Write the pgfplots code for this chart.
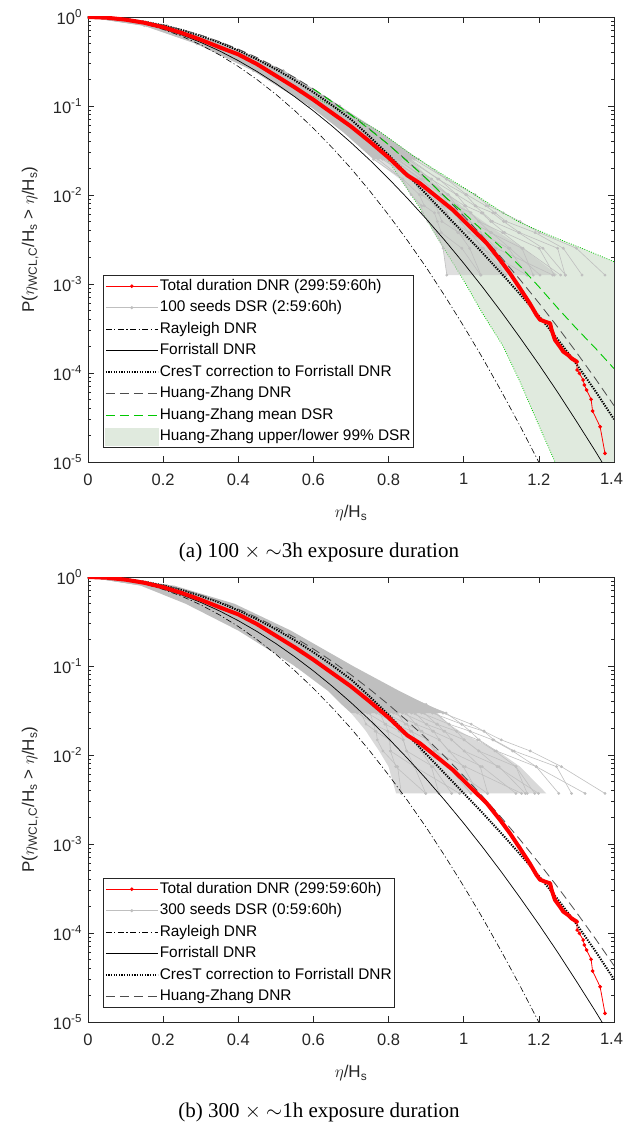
\documentclass[border=0pt]{standalone}
\usepackage{pgfplots}
\pgfplotsset{compat=1.18}
\usepackage{pgfplotstable}
\usepackage{fontspec}
\setmainfont{Liberation Sans}
\newfontfamily\capfont{Liberation Serif}

\definecolor{dsrgrey}{rgb}{0.75,0.75,0.75}
\definecolor{bandfill}{RGB}{224,234,222}
\definecolor{hzgreen}{RGB}{0,200,0}
\definecolor{axgrey}{rgb}{0.15,0.15,0.15}
\definecolor{hzgrey}{rgb}{0.3,0.3,0.3}

% 100 seeds DSR (panel a): x (eta/Hs) of each seed at each exceedance level P
\pgfplotstableread{
P       s1    s2    s3    s4    s5    s6    s7    s8    s9    s10   s11   s12   s13   s14   s15   s16
1       0     0     0     0     0     0     0     0     0     0     0     0     0     0     0     0
0.8     0.180 0.162 0.198 0.168 0.186 0.156 0.174 0.204 0.180 0.192 0.150 0.171 0.210 0.183 0.165 0.195
0.5     0.325 0.304 0.346 0.311 0.332 0.297 0.318 0.353 0.325 0.339 0.290 0.315 0.360 0.329 0.308 0.343
0.25    0.480 0.456 0.504 0.464 0.488 0.448 0.472 0.512 0.480 0.496 0.440 0.468 0.520 0.484 0.460 0.500
0.1     0.630 0.606 0.654 0.614 0.638 0.598 0.622 0.662 0.630 0.646 0.590 0.618 0.670 0.634 0.610 0.650
0.0504  0.705 0.695 0.730 0.708 0.725 0.703 0.720 0.748 0.730 0.743 0.710 0.732 0.768 0.749 0.738 0.768
0.0252  0.760 0.772 0.784 0.790 0.796 0.802 0.808 0.814 0.820 0.826 0.832 0.842 0.850 0.858 0.868 0.880
0.0151  0.837 0.838 0.863 0.857 0.876 0.870 0.889 0.883 0.902 0.896 0.915 0.913 0.934 0.931 0.954 0.955
0.01008 0.860 0.882 0.889 0.908 0.906 0.925 0.923 0.942 0.940 0.959 0.957 0.981 0.982 1.005 1.008 1.030
0.00756 0.888 0.895 0.926 0.924 0.945 0.943 0.964 0.962 0.983 0.981 1.002 1.005 1.030 1.032 1.059 1.066
0.0063  0.890 0.922 0.933 0.955 0.955 0.976 0.976 0.998 0.998 1.019 1.019 1.047 1.051 1.077 1.084 1.105
0.00504 0.905 0.930 0.942 0.966 0.966 0.991 0.991 1.015 1.015 1.040 1.040 1.072 1.077 1.106 1.113 1.150
0.00378 0.929 0.940 0.987 0.984 1.016 1.013 1.045 1.042 1.074 1.071 1.103 1.109 1.146 1.149 1.190 1.201
0.00252 0.945 0.995 1.016 1.048 1.052 1.084 1.087 1.119 1.123 1.155 1.158 1.201 1.211 1.250 1.265 1.300
0.00126 0.955 1.045 1.046 1.168 1.112 1.104 1.237 1.169 1.203 1.185 1.258 1.241 1.271 1.270 1.315 1.376
}\seedsA

% 300 seeds DSR (panel b)
\pgfplotstableread{
P      b1    b2    b3    b4    b5    b6    b7    b8    b9    b10   b11   b12   b13   b14   b15   b16   b17   b18   b19   b20
1      0     0     0     0     0     0     0     0     0     0     0     0     0     0     0     0     0     0     0     0
0.8    0.180 0.162 0.198 0.171 0.189 0.153 0.204 0.177 0.186 0.168 0.195 0.150 0.183 0.210 0.174 0.159 0.192 0.201 0.165 0.207
0.5    0.315 0.288 0.342 0.302 0.329 0.275 0.351 0.311 0.324 0.297 0.338 0.270 0.320 0.360 0.306 0.284 0.333 0.347 0.293 0.356
0.25   0.460 0.430 0.490 0.445 0.475 0.415 0.500 0.455 0.470 0.440 0.485 0.410 0.465 0.510 0.450 0.425 0.480 0.495 0.435 0.505
0.1    0.625 0.583 0.667 0.604 0.646 0.562 0.681 0.618 0.639 0.597 0.660 0.555 0.632 0.695 0.611 0.576 0.653 0.674 0.590 0.688
0.052  0.701 0.680 0.733 0.701 0.730 0.685 0.758 0.726 0.741 0.721 0.761 0.705 0.753 0.794 0.749 0.734 0.783 0.800 0.756 0.818
0.037  0.706 0.705 0.738 0.728 0.738 0.748 0.759 0.769 0.777 0.787 0.798 0.808 0.818 0.828 0.839 0.851 0.863 0.875 0.888 0.900
0.0296 0.727 0.717 0.751 0.744 0.777 0.768 0.801 0.792 0.823 0.813 0.847 0.837 0.871 0.861 0.895 0.888 0.924 0.917 0.953 0.945
0.0222 0.740 0.762 0.760 0.793 0.790 0.821 0.818 0.849 0.844 0.874 0.872 0.902 0.900 0.930 0.928 0.961 0.961 0.995 0.995 1.020
0.0185 0.767 0.764 0.798 0.798 0.831 0.828 0.862 0.859 0.889 0.886 0.920 0.917 0.950 0.947 0.981 0.981 1.017 1.017 1.054 1.054
0.0148 0.770 0.803 0.803 0.839 0.839 0.872 0.872 0.905 0.902 0.935 0.935 0.968 0.968 1.001 1.001 1.037 1.041 1.077 1.080 1.100
0.0111 0.785 0.805 0.805 0.848 0.848 0.887 0.887 0.926 0.922 0.961 0.961 1.001 1.001 1.040 1.040 1.083 1.087 1.130 1.134 1.177
0.0074 0.824 0.819 0.869 0.869 0.918 0.914 0.963 0.959 1.004 0.999 1.049 1.044 1.094 1.089 1.139 1.139 1.193 1.193 1.247 1.260
0.0037 0.834 0.899 0.899 0.989 0.968 0.934 1.063 1.019 1.154 1.039 1.139 1.064 1.164 1.199 1.169 1.189 1.323 1.253 1.287 1.376
}\seedsB

\tikzset{
  greyline/.style={dsrgrey, solid, line width=0.6pt, mark=*, mark size=1.1pt, mark options={fill=dsrgrey, draw=dsrgrey, solid}},
  rayl/.style={black, line width=0.6pt, dash pattern=on 6pt off 2.5pt on 1.2pt off 2.5pt},
  forr/.style={black, solid, line width=0.7pt},
  crest/.style={black, line width=2pt, dash pattern=on 1.3pt off 1.3pt},
  hzdnr/.style={hzgrey, line width=0.8pt, dash pattern=on 9pt off 5pt},
  hzmean/.style={hzgreen, line width=0.9pt, dash pattern=on 9pt off 5pt},
  hzbound/.style={hzgreen, line width=0.8pt, dash pattern=on 0.8pt off 1.6pt},
}

\pgfplotsset{clip marker paths=true}

\newcommand{\theorycurves}{%
  \addplot[rayl, forget plot] coordinates {
    (0,1) (0.05,0.9802) (0.1,0.9231) (0.15,0.8353) (0.2,0.7261) (0.25,0.6065) (0.3,0.4868)
    (0.35,0.3753) (0.4,0.2780) (0.45,0.1979) (0.5,0.1353) (0.55,0.0889) (0.6,0.0561)
    (0.65,0.0340) (0.7,0.0199) (0.75,0.0111) (0.8,0.00597) (0.85,0.00309) (0.9,0.00154)
    (0.95,0.000731) (1.0,0.000335) (1.05,0.000148) (1.1,6.25e-5) (1.15,2.54e-5)
    (1.2,9.93e-6) (1.25,3.73e-6)};
  \addplot[forr, forget plot] coordinates {
    (0,1) (0.05,0.978) (0.1,0.9208) (0.15,0.8375) (0.2,0.737) (0.25,0.628) (0.3,0.5188)
    (0.35,0.4157) (0.4,0.3232) (0.45,0.2439) (0.5,0.1788) (0.55,0.1273) (0.6,0.0881)
    (0.65,0.0593) (0.7,0.0388) (0.75,0.0247) (0.8,0.01529) (0.85,0.0092) (0.9,0.0054)
    (0.95,0.00308) (1.0,0.00171) (1.05,0.000925) (1.1,0.000487) (1.15,0.000249)
    (1.2,0.0001249) (1.25,6.08e-5) (1.3,2.87e-5) (1.35,1.33e-5) (1.4,5.99e-6)};
  \addplot[crest, forget plot] coordinates {
    (0,1) (0.05,0.9866) (0.1,0.9474) (0.15,0.8854) (0.2,0.8055) (0.25,0.7132) (0.3,0.6146)
    (0.35,0.5156) (0.4,0.4209) (0.45,0.3345) (0.5,0.2587) (0.55,0.1948) (0.6,0.1427)
    (0.65,0.1018) (0.7,0.0707) (0.75,0.0452) (0.8,0.0282) (0.85,0.0170) (0.9,0.01023)
    (0.95,0.00617) (1.0,0.00372) (1.05,0.00224) (1.1,0.00132) (1.15,0.000767)
    (1.2,0.000437) (1.25,0.00024) (1.3,0.000126) (1.35,6.31e-5) (1.4,3.02e-5)};
  \addplot[hzdnr, forget plot] coordinates {
    (0,1) (0.05,0.9868) (0.1,0.9487) (0.15,0.8887) (0.2,0.8112) (0.25,0.7217) (0.3,0.6258)
    (0.35,0.5288) (0.4,0.4356) (0.45,0.3497) (0.5,0.2737) (0.55,0.2089) (0.6,0.1553)
    (0.65,0.1126) (0.7,0.0796) (0.75,0.0548) (0.8,0.03682) (0.85,0.02411) (0.9,0.01541)
    (0.95,0.00958) (1.0,0.00581) (1.05,0.00344) (1.1,0.001986) (1.15,0.001117)
    (1.2,0.000613) (1.25,0.000328) (1.3,0.0001707) (1.35,8.69e-5) (1.4,4.30e-5)};
}

\newcommand{\totalcurve}{%
  \addplot[red, solid, line width=4pt, line join=round, line cap=round, forget plot] coordinates {
    (0,1) (0.05,0.9817) (0.1,0.9333) (0.15,0.861) (0.2,0.7674) (0.25,0.6607) (0.3,0.5559)
    (0.35,0.4571) (0.4,0.3802) (0.45,0.2951) (0.5,0.2188) (0.55,0.1622) (0.6,0.1175)
    (0.65,0.0832) (0.7,0.0589) (0.75,0.0398) (0.8,0.0263) (0.85,0.0166) (0.884,0.01349)
    (0.928,0.00955) (0.972,0.00676) (1.017,0.00437) (1.061,0.00288) (1.097,0.00186)
    (1.123,0.00132) (1.15,0.000891) (1.176,0.000603) (1.194,0.000447) (1.203,0.000398)
    (1.216,0.000378) (1.23,0.000361) (1.234,0.000304) (1.243,0.000235) (1.256,0.000198)
    (1.265,0.000174) (1.278,0.000159) (1.287,0.000146) (1.301,0.000134)};
  \addplot[red, solid, line width=0.8pt, mark=*, mark size=1.4pt, mark options={fill=red, solid}, forget plot] coordinates {
    (1.176,0.000603) (1.194,0.000447) (1.203,0.000398) (1.216,0.000378) (1.23,0.000361)
    (1.234,0.000304) (1.243,0.000235) (1.256,0.000198) (1.265,0.000174) (1.278,0.000159)
    (1.287,0.000146) (1.301,0.000134) (1.302,0.000108) (1.308,9.91e-5) (1.318,8.34e-5)
    (1.321,7.33e-5) (1.327,6.44e-5) (1.339,5.06e-5) (1.343,3.74e-5) (1.363,2.49e-5)
    (1.376,1.25e-5)};
}

\begin{document}
\begin{tikzpicture}
\path[use as bounding box] (-88pt,-102pt) rectangle (535pt,1022pt);

% ---------------- panel (a) ----------------
\begin{axis}[at={(0pt,560pt)}, anchor=south west,
    scale only axis, width=526pt, height=445pt,
    xmin=0, xmax=1.4, ymode=log, ymin=1e-5, ymax=1,
    clip marker paths=true,
    xtick={0,0.2,0.4,0.6,0.8,1,1.2,1.4},
    xticklabels={0,0.2,0.4,0.6,0.8,1,1.2,\hspace*{-5pt}1.4},
    ytick={1e-5,1e-4,1e-3,1e-2,1e-1,1},
    yticklabels={10\textsuperscript{-5},10\textsuperscript{-4},10\textsuperscript{-3},10\textsuperscript{-2},10\textsuperscript{-1},10\textsuperscript{0}},
    minor ytick={2e-5,3e-5,4e-5,5e-5,6e-5,7e-5,8e-5,9e-5,2e-4,3e-4,4e-4,5e-4,6e-4,7e-4,8e-4,9e-4,2e-3,3e-3,4e-3,5e-3,6e-3,7e-3,8e-3,9e-3,2e-2,3e-2,4e-2,5e-2,6e-2,7e-2,8e-2,9e-2,0.2,0.3,0.4,0.5,0.6,0.7,0.8,0.9},
    tick align=inside, major tick length=6.5pt, minor tick length=3.5pt,
    every tick/.style={axgrey, line width=0.6pt},
    axis line style={axgrey, line width=0.75pt},
    tick label style={font=\fontsize{16.5}{19}\selectfont, text=black!85},
    xticklabel style={yshift=-8pt},
    yticklabel style={xshift=-2.5pt},
    label style={font=\fontsize{17}{20}\selectfont, text=black!85},
    xlabel={$\eta$/H\textsubscript{s}},
    ylabel={P($\eta$\textsubscript{WCL,C}/H\textsubscript{s} > $\eta$/H\textsubscript{s})},
    x label style={at={(axis description cs:0.5,-0.115)}, anchor=center},
    y label style={at={(axis description cs:-0.11,0.5)}, anchor=center},
    legend cell align=left,
    legend style={at={(0,0)}, anchor=south west, xshift=15pt, yshift=14pt,
      draw=axgrey, line width=0.6pt, fill=white,
      font=\fontsize{15.4}{18}\selectfont,
      inner xsep=1.5pt, inner ysep=1pt, row sep=1.5pt,
      nodes={inner xsep=1pt, inner ysep=2pt, text height=12pt, text depth=4pt}},
    legend image code/.code={\draw[mark repeat=2,mark phase=2,#1] plot coordinates {(0pt,0pt) (26pt,0pt) (52pt,0pt)};}]
  % Huang-Zhang upper/lower 99% DSR band
  \addplot[fill=bandfill, draw=none, forget plot] coordinates {
    (0.6,0.1274) (0.689,0.0832) (0.777,0.0513) (0.866,0.0275) (0.955,0.01585)
    (1.043,0.00933) (1.105,0.00631) (1.15,0.0049) (1.238,0.00339) (1.327,0.0024) (1.4,0.00178)
    (1.4,4e-7) (1.3,3.16e-6) (1.243,1e-5) (1.194,2.95e-5) (1.15,7.94e-5) (1.105,0.0001995)
    (1.05,0.000468) (1.0,0.001096) (0.95,0.0024) (0.875,0.00813) (0.8,0.024) (0.7,0.0562) (0.6,0.1122)} --cycle;
  % lower band edge (under the seeds)
  \addplot[hzbound, forget plot] coordinates {
    (0.6,0.1122) (0.7,0.0562) (0.8,0.024) (0.875,0.00813) (0.95,0.0024) (1.0,0.001096)
    (1.05,0.000468) (1.105,0.0001995) (1.15,7.94e-5) (1.194,2.95e-5) (1.243,1e-5) (1.3,3.16e-6)};
  % DSR body and dense tail core
  \addplot[fill=dsrgrey, draw=none, forget plot] coordinates {
    (0,1) (0.15,0.8) (0.29,0.5) (0.44,0.25) (0.59,0.1) (0.68,0.0504) (0.76,0.0252)
    (0.88,0.0252) (0.78,0.0504) (0.67,0.1) (0.52,0.25) (0.36,0.5) (0.21,0.8) (0,1)} --cycle;
  \addplot[fill=dsrgrey, fill opacity=0.5, draw=none, forget plot] coordinates {
    (0.76,0.0252) (0.83,0.0151) (0.86,0.01008) (0.88,0.00756) (0.89,0.0063) (0.905,0.00504)
    (0.92,0.00378) (0.945,0.00252) (0.955,0.00126) (1.25,0.00126) (1.158,0.00252) (1.094,0.00378)
    (1.052,0.00504) (1.019,0.0063) (0.994,0.00756) (0.962,0.01008) (0.908,0.0151) (0.86,0.0252)} --cycle;
  \pgfplotsinvokeforeach{1,...,16}{\addplot[greyline, forget plot] table[x=s#1, y=P]{\seedsA};}
  % upper band edge
  \addplot[hzbound, forget plot] coordinates {
    (0.6,0.1274) (0.689,0.0832) (0.777,0.0513) (0.866,0.0275) (0.955,0.01585)
    (1.043,0.00933) (1.105,0.00631) (1.15,0.0049) (1.238,0.00339) (1.327,0.0024) (1.4,0.00178)};
  \theorycurves
  \addplot[hzmean, forget plot] coordinates {
    (0.6,0.1553) (0.7,0.0796) (0.8,0.0368) (0.9,0.0154) (0.95,0.00955) (1.0,0.00631)
    (1.05,0.00398) (1.1,0.00257) (1.15,0.00158) (1.2,0.000933) (1.25,0.000537)
    (1.3,0.000316) (1.35,0.000191) (1.4,0.000112)};
  \totalcurve
  \addlegendimage{red, solid, line width=0.8pt, mark=*, mark size=1.4pt, mark options={fill=red, solid}}
  \addlegendentry{Total duration DNR (299:59:60h)}
  \addlegendimage{dsrgrey, solid, line width=0.8pt, mark=*, mark size=1.1pt, mark options={fill=dsrgrey, solid}}
  \addlegendentry{100 seeds DSR (2:59:60h)}
  \addlegendimage{black, line width=0.6pt, dash pattern=on 6pt off 2.5pt on 1.2pt off 2.5pt}
  \addlegendentry{Rayleigh DNR}
  \addlegendimage{black, solid, line width=0.7pt}
  \addlegendentry{Forristall DNR}
  \addlegendimage{black, line width=2pt, dash pattern=on 1.3pt off 1.3pt}
  \addlegendentry{CresT correction to Forristall DNR}
  \addlegendimage{hzgrey, line width=0.8pt, dash pattern=on 9pt off 5pt}
  \addlegendentry{Huang-Zhang DNR}
  \addlegendimage{legend image code/.code={\draw[hzgreen, line width=1.1pt, dash pattern=on 9pt off 5pt] (0pt,0pt) -- (52pt,0pt);}}
  \addlegendentry{Huang-Zhang mean DSR}
  \addlegendimage{legend image code/.code={\fill[bandfill] (0pt,-8.5pt) rectangle (52pt,8.5pt);}}
  \addlegendentry{Huang-Zhang upper/lower 99\% DSR}
\end{axis}

% ---------------- panel (b) ----------------
\begin{axis}[at={(0pt,0pt)}, anchor=south west,
    scale only axis, width=526pt, height=445pt,
    xmin=0, xmax=1.4, ymode=log, ymin=1e-5, ymax=1,
    clip marker paths=true,
    xtick={0,0.2,0.4,0.6,0.8,1,1.2,1.4},
    xticklabels={0,0.2,0.4,0.6,0.8,1,1.2,\hspace*{-5pt}1.4},
    ytick={1e-5,1e-4,1e-3,1e-2,1e-1,1},
    yticklabels={10\textsuperscript{-5},10\textsuperscript{-4},10\textsuperscript{-3},10\textsuperscript{-2},10\textsuperscript{-1},10\textsuperscript{0}},
    minor ytick={2e-5,3e-5,4e-5,5e-5,6e-5,7e-5,8e-5,9e-5,2e-4,3e-4,4e-4,5e-4,6e-4,7e-4,8e-4,9e-4,2e-3,3e-3,4e-3,5e-3,6e-3,7e-3,8e-3,9e-3,2e-2,3e-2,4e-2,5e-2,6e-2,7e-2,8e-2,9e-2,0.2,0.3,0.4,0.5,0.6,0.7,0.8,0.9},
    tick align=inside, major tick length=6.5pt, minor tick length=3.5pt,
    every tick/.style={axgrey, line width=0.6pt},
    axis line style={axgrey, line width=0.75pt},
    tick label style={font=\fontsize{16.5}{19}\selectfont, text=black!85},
    xticklabel style={yshift=-8pt},
    yticklabel style={xshift=-2.5pt},
    label style={font=\fontsize{17}{20}\selectfont, text=black!85},
    xlabel={$\eta$/H\textsubscript{s}},
    ylabel={P($\eta$\textsubscript{WCL,C}/H\textsubscript{s} > $\eta$/H\textsubscript{s})},
    x label style={at={(axis description cs:0.5,-0.115)}, anchor=center},
    y label style={at={(axis description cs:-0.11,0.5)}, anchor=center},
    legend cell align=left,
    legend style={at={(0,0)}, anchor=south west, xshift=15pt, yshift=14pt,
      draw=axgrey, line width=0.6pt, fill=white,
      font=\fontsize{15.4}{18}\selectfont,
      inner xsep=1.5pt, inner ysep=1pt, row sep=1.5pt,
      nodes={inner xsep=1pt, inner ysep=2pt, text height=12pt, text depth=4pt}},
    legend image code/.code={\draw[mark repeat=2,mark phase=2,#1] plot coordinates {(0pt,0pt) (26pt,0pt) (52pt,0pt)};}]
  \addplot[fill=dsrgrey, draw=none, forget plot] coordinates {
    (0,1) (0.14,0.8) (0.26,0.5) (0.40,0.25) (0.55,0.1) (0.64,0.052) (0.675,0.037) (0.70,0.0296)
    (0.955,0.0296) (0.90,0.037) (0.83,0.052) (0.705,0.1) (0.54,0.25) (0.39,0.5) (0.23,0.8) (0,1)} --cycle;
  \addplot[fill=dsrgrey, fill opacity=0.6, draw=none, forget plot] coordinates {
    (0.70,0.0296) (0.725,0.0222) (0.74,0.0185) (0.755,0.0148) (0.775,0.0111) (0.80,0.0074)
    (0.82,0.0037) (1.22,0.0037) (1.15,0.0074) (1.09,0.0111) (1.03,0.0148) (0.99,0.0185)
    (0.96,0.0222) (0.93,0.0296)} --cycle;
  \pgfplotsinvokeforeach{1,...,20}{\addplot[greyline, forget plot] table[x=b#1, y=P]{\seedsB};}
  \theorycurves
  \totalcurve
  \addlegendimage{red, solid, line width=0.8pt, mark=*, mark size=1.4pt, mark options={fill=red, solid}}
  \addlegendentry{Total duration DNR (299:59:60h)}
  \addlegendimage{dsrgrey, solid, line width=0.8pt, mark=*, mark size=1.1pt, mark options={fill=dsrgrey, solid}}
  \addlegendentry{300 seeds DSR (0:59:60h)}
  \addlegendimage{black, line width=0.6pt, dash pattern=on 6pt off 2.5pt on 1.2pt off 2.5pt}
  \addlegendentry{Rayleigh DNR}
  \addlegendimage{black, solid, line width=0.7pt}
  \addlegendentry{Forristall DNR}
  \addlegendimage{black, line width=2pt, dash pattern=on 1.3pt off 1.3pt}
  \addlegendentry{CresT correction to Forristall DNR}
  \addlegendimage{hzgrey, line width=0.8pt, dash pattern=on 9pt off 5pt}
  \addlegendentry{Huang-Zhang DNR}
\end{axis}

\node[font=\capfont\fontsize{21}{25}\selectfont] at (231pt,470pt) {(a) 100 $\times$ $\sim$3h exposure duration};
\node[font=\capfont\fontsize{21}{25}\selectfont] at (231pt,-90pt) {(b) 300 $\times$ $\sim$1h exposure duration};
\end{tikzpicture}
\end{document}
